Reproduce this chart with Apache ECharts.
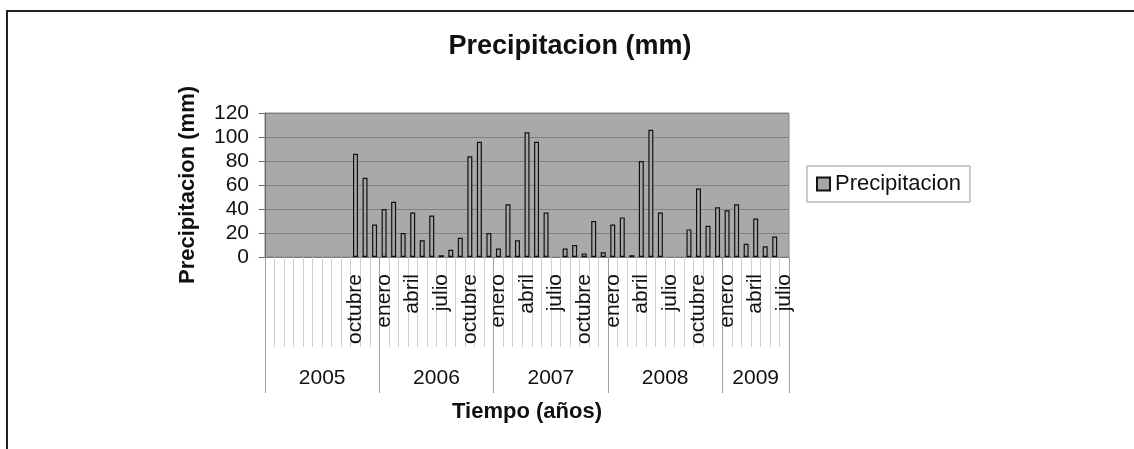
<!DOCTYPE html>
<html>
<head>
<meta charset="utf-8">
<script src="https://cdn.jsdelivr.net/npm/echarts@6/dist/echarts.min.js"></script>
<style>
  html, body { margin: 0; padding: 0; background: #fff; }
  #chart { position: absolute; left: 0; top: 0; width: 1134px; height: 449px; }
  #marco { position: absolute; left: 6px; top: 10px; width: 1140px; height: 460px;
           border-left: 2px solid #222; border-top: 2px solid #222; pointer-events: none; }
</style>
</head>
<body>
<div id="chart"></div>
<div id="marco"></div>
<script>
// datos (mm por mes, ene 2005 - jul 2009)
const anios = ["2005", "2006", "2007", "2008", "2009"];
const mesesPorAnio = [12, 12, 12, 12, 7];
const meses = ["enero", "febrero", "marzo", "abril", "mayo", "junio", "julio",
  "agosto", "septiembre", "octubre", "noviembre", "diciembre"];
const primerMes = 9; // la serie empieza en octubre 2005

// null = mes sin dato (sin barra)
const p2005 = [null, null, null, null, null, null, null, null, null, 86, 66, 27];
const p2006 = [40, 46, 20, 37, 14, 34.5, 1.5, 6, 16, 84, 96, 20];
const p2007 = [7, 44, 14, 104, 96, 37, null, 7, 10, 3, 30, 4];
const p2008 = [27, 33, 1.5, 80, 106, 37, null, null, 23, 57, 26, 41.5];
const p2009 = [39, 44, 11, 32, 9, 17, null];
const precipitacion = [].concat(p2005, p2006, p2007, p2008, p2009);

// categorias
const catMes = [];
const catAnio = [];
const inicioAnio = [];
const centroAnio = {};
anios.forEach((a, k) => {
  inicioAnio.push(catMes.length);
  const n = mesesPorAnio[k];
  centroAnio[catMes.length + Math.floor((n - 1) / 2)] = n % 2 === 0 ? "par" : "impar";
  for (let m = 0; m < n; m++) {
    const idx = catMes.length;
    catMes.push(idx < primerMes ? "" : meses[m]);
    catAnio.push(a);
  }
});

const fuente = "Liberation Sans, Arial, Helvetica, sans-serif";
const myChart = echarts.init(document.getElementById("chart"));

const option = {
  animation: false,
  textStyle: { fontFamily: fuente },
  title: {
    text: "Precipitacion (mm)",
    left: 565,
    top: 28,
    textAlign: "center",
    textStyle: { fontSize: 27, fontWeight: "bold", color: "#111", fontFamily: fuente }
  },
  legend: {
    left: 807,
    top: 166,
    padding: [7, 9, 7, 9],
    borderColor: "#999",
    borderWidth: 1,
    itemWidth: 13,
    itemHeight: 13,
    icon: "rect",
    textStyle: { fontSize: 22, color: "#111", fontFamily: fuente },
    data: ["Precipitacion"]
  },
  grid: {
    left: 265,
    top: 113,
    width: 524,
    height: 144,
    show: true,
    backgroundColor: "#a9a9a9",
    borderColor: "#8a8a8a",
    borderWidth: 1
  },
  xAxis: [
    {
      type: "category",
      data: catMes,
      position: "bottom",
      axisLine: { show: true, lineStyle: { color: "#777" } },
      axisTick: { show: true, interval: 0, length: 90, lineStyle: { color: "#cfcfcf" } },
      axisLabel: {
        interval: (i) => i >= primerMes && i % 3 === 0,
        rotate: 90,
        margin: 17,
        fontSize: 21,
        color: "#111",
        fontFamily: fuente
      },
      splitLine: { show: false }
    },
    {
      type: "category",
      data: catAnio,
      position: "bottom",
      offset: 0,
      axisLine: { show: false },
      axisTick: {
        show: true,
        interval: (i) => inicioAnio.indexOf(i) >= 0,
        length: 136,
        lineStyle: { color: "#a0a0a0" }
      },
      axisLabel: {
        interval: (i) => centroAnio[i] !== undefined,
        margin: 111,
        fontSize: 21,
        color: "#111",
        fontFamily: fuente,
        formatter: (v, i) => centroAnio[i] === "par" ? "{par|" + v + "}" : "{impar|" + v + "}",
        rich: {
          par: { fontSize: 21, color: "#111", fontFamily: fuente, padding: [0, 0, 0, 9.5] },
          impar: { fontSize: 21, color: "#111", fontFamily: fuente }
        }
      },
      name: "Tiempo (años)",
      nameLocation: "middle",
      nameGap: 144,
      nameTextStyle: { fontSize: 22, fontWeight: "bold", color: "#111", fontFamily: fuente },
      splitLine: { show: false }
    }
  ],
  yAxis: {
    type: "value",
    min: 0,
    max: 120,
    interval: 20,
    name: "Precipitacion (mm)",
    nameLocation: "middle",
    nameGap: 66,
    nameTextStyle: { fontSize: 22, fontWeight: "bold", color: "#111", fontFamily: fuente },
    axisLine: { show: true, lineStyle: { color: "#666" } },
    axisTick: { show: true, length: 6, lineStyle: { color: "#666" } },
    axisLabel: { margin: 16, fontSize: 21, color: "#111", fontFamily: fuente },
    splitLine: { show: true, lineStyle: { color: "#808080", width: 1 } }
  },
  series: [
    {
      name: "Precipitacion",
      type: "bar",
      xAxisIndex: 0,
      data: precipitacion,
      barWidth: 5,
      itemStyle: { color: "#a6a6a6", borderColor: "#111", borderWidth: 1.2 }
    }
  ]
};

myChart.setOption(option);
</script>
</body>
</html>
